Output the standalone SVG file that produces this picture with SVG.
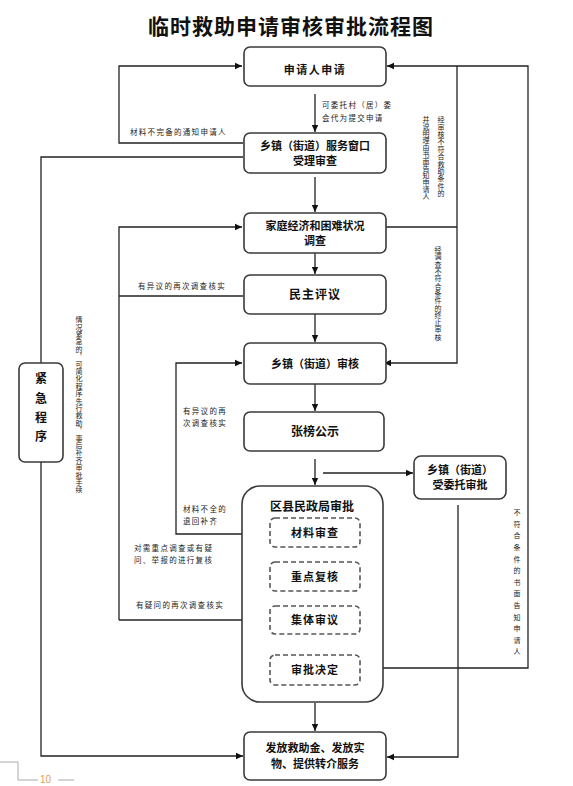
<svg xmlns="http://www.w3.org/2000/svg" width="573" height="786" viewBox="0 0 573 786">
<style>
.box{fill:#fff;stroke:#3a3a3a;stroke-width:1.6}
.dash{fill:#fff;stroke:#555;stroke-width:1.6;stroke-dasharray:5 3}
.t{font-family:"Noto Sans CJK SC","Noto Sans",sans-serif;font-weight:bold;font-size:11px;fill:#111;text-anchor:middle}
.s{font-family:"Noto Sans CJK SC","Noto Sans",sans-serif;font-size:7.5px;fill:#222;letter-spacing:1.3px}
.v{font-family:"Noto Sans CJK SC","Noto Sans",sans-serif;font-size:7px;fill:#222;writing-mode:vertical-rl}
.ln{fill:none;stroke:#222;stroke-width:1.3}
</style>
<defs>
<marker id="ah" markerWidth="8" markerHeight="8" refX="7" refY="4" orient="auto" markerUnits="userSpaceOnUse">
<path d="M0,0.8 L7,4 L0,7.2 Z" fill="#111"/>
</marker>
</defs>
<rect width="573" height="786" fill="#fff"/>
<text x="291" y="34" style="font-family:'Noto Sans CJK SC',sans-serif;font-weight:bold;font-size:21px;fill:#111;text-anchor:middle;letter-spacing:1px">临时救助申请审核审批流程图</text>

<g id="connectors">
<path class="ln" d="M315,94 V132" marker-end="url(#ah)"/>
<path class="ln" d="M315,177 V212" marker-end="url(#ah)"/>
<path class="ln" d="M315,253 V274" marker-end="url(#ah)"/>
<path class="ln" d="M315,314 V342" marker-end="url(#ah)"/>
<path class="ln" d="M315,384 V411" marker-end="url(#ah)"/>
<path class="ln" d="M315,459 V485" marker-end="url(#ah)"/>
<path class="ln" d="M315,703 V731" marker-end="url(#ah)"/>
<path class="ln" d="M243,143 H119 V66 H242" marker-end="url(#ah)"/>
<path class="ln" d="M243,157 H41 V363"/>
<path class="ln" d="M41,462 V756 H243" marker-end="url(#ah)"/>
<path class="ln" d="M119,620 V227 H242" marker-end="url(#ah)"/>
<path class="ln" d="M119,620 H270"/>
<path class="ln" d="M243,296 H119"/>
<path class="ln" d="M270,534 H176 V363 H242" marker-end="url(#ah)"/>
<path class="ln" d="M386,227 H457"/>
<path class="ln" d="M457,66 V363 H384" marker-end="url(#ah)"/>
<path class="ln" d="M360,668 H528 V66 H387" marker-end="url(#ah)"/>
<path class="ln" d="M323,473 H413" marker-end="url(#ah)"/>
<path class="ln" d="M458,505 V757 H387" marker-end="url(#ah)"/>
</g>

<g id="labels">
<text class="s" x="322" y="108">可委托村（居）委</text>
<text class="s" x="322" y="121">会代为提交申请</text>
<text class="s" x="130" y="135">材料不完备的通知申请人</text>
<text class="s" x="138" y="289">有异议的再次调查核实</text>
<text class="s" x="183" y="414">有异议的再</text>
<text class="s" x="183" y="426">次调查核实</text>
<text class="s" x="183" y="512">材料不全的</text>
<text class="s" x="183" y="524">退回补齐</text>
<text class="s" x="134" y="551">对需重点调查或有疑</text>
<text class="s" x="134" y="563">问、举报的进行复核</text>
<text class="s" x="136" y="608">有疑问的再次调查核实</text>
<text class="v" x="441" y="116" style="letter-spacing:0.4px">经审核不符合救助条件的</text>
<text class="v" x="426" y="116" style="letter-spacing:0px">并说明理由书面告知申请人</text>
<text class="v" x="438" y="246" style="letter-spacing:0.3px">经调查不符合条件的终止审核</text>
<text class="v" x="79" y="316" style="letter-spacing:0.4px">情况紧急的，可简化程序先行救助，事后补齐审批手续</text>
<text class="v" x="517" y="509" style="letter-spacing:4.6px">不符合条件的书面告知申请人</text>
</g>

<g id="n1"><rect class="box" x="244" y="47" width="142" height="39" rx="6"/><text class="t" x="315" y="74" style="letter-spacing:1.5px">申请人申请</text></g>
<g id="n2"><rect class="box" x="244" y="133" width="142" height="40" rx="6"/><text class="t" x="315" y="150">乡镇（街道）服务窗口</text><text class="t" x="315" y="165">受理审查</text></g>
<g id="n3"><rect class="box" x="244" y="213" width="142" height="40" rx="6"/><text class="t" x="315" y="230">家庭经济和困难状况</text><text class="t" x="315" y="245">调查</text></g>
<g id="n4"><rect class="box" x="244" y="275" width="142" height="39" rx="6"/><text class="t" x="315" y="299" style="font-size:12px;letter-spacing:1px">民主评议</text></g>
<g id="n5"><rect class="box" x="244" y="343" width="142" height="41" rx="6"/><text class="t" x="315" y="368">乡镇（街道）审核</text></g>
<g id="n6"><rect class="box" x="244" y="412" width="140" height="39" rx="6"/><text class="t" x="315" y="436" style="font-size:12px">张榜公示</text></g>
<g id="n7"><rect class="box" x="242" y="486" width="141" height="216" rx="18"/><text class="t" x="312" y="511" style="font-size:12px">区县民政局审批</text>
<rect class="dash" x="270" y="518" width="90" height="29" rx="5"/><text class="t" x="315" y="537" style="letter-spacing:1px">材料审查</text>
<rect class="dash" x="270" y="562" width="90" height="29" rx="5"/><text class="t" x="315" y="581" style="letter-spacing:1px">重点复核</text>
<rect class="dash" x="270" y="606" width="90" height="28" rx="5"/><text class="t" x="315" y="624" style="letter-spacing:1px">集体审议</text>
<rect class="dash" x="270" y="655" width="90" height="30" rx="5"/><text class="t" x="315" y="674" style="letter-spacing:1px">审批决定</text></g>
<g id="n8"><rect class="box" x="244" y="732" width="142" height="48" rx="6"/><text class="t" x="315" y="752">发放救助金、发放实</text><text class="t" x="315" y="768">物、提供转介服务</text></g>
<g id="n9"><rect class="box" x="414" y="456" width="92" height="43" rx="7"/><text class="t" x="460" y="474">乡镇（街道）</text><text class="t" x="460" y="489">受委托审批</text></g>
<g id="n10"><rect class="box" x="19" y="363" width="44" height="99" rx="6"/>
<text class="t" x="41" y="383" style="font-size:12px">紧</text><text class="t" x="41" y="403" style="font-size:12px">急</text><text class="t" x="41" y="422" style="font-size:12px">程</text><text class="t" x="41" y="441" style="font-size:12px">序</text></g>

<g id="page">
<path d="M0,762 H18 V780 H38" fill="none" stroke="#aaa" stroke-width="1"/>
<path d="M58,780 H74" fill="none" stroke="#aaa" stroke-width="1"/>
<text x="40" y="783" style="font-family:'Liberation Sans',sans-serif;font-size:10px;fill:#d4a060">10</text>
</g>
</svg>
